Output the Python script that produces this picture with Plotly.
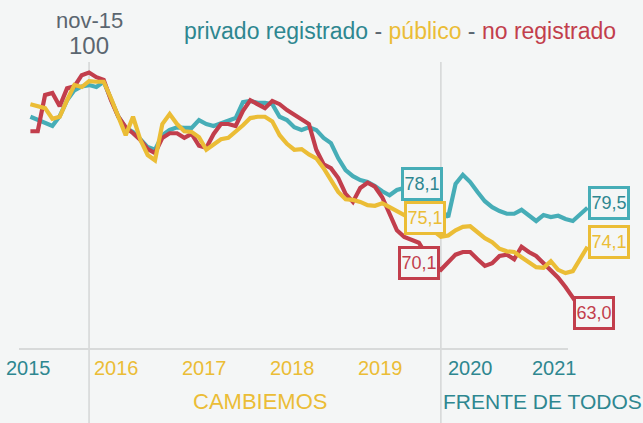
import pandas as pd
import plotly.graph_objects as go

# Monthly index (nov-15 = 100), Mar-2015 .. Jul-2021
months = pd.date_range("2015-03-01", periods=77, freq="MS").strftime("%b-%y").tolist()

privado_registrado = [
    93.3, 92.8, 92.3, 91.9, 93.4, 95.8, 97.3, 97.9, 98.1, 97.8,
    98.6, 95.8, 93.3, 91.6, 91.0, 89.9, 88.7, 88.3, 90.5, 91.3,
    91.7, 91.6, 91.6, 92.8, 92.2, 91.9, 92.3, 92.8, 93.1, 95.5,
    95.7, 95.4, 95.4, 95.2, 93.3, 92.8, 91.7, 91.3, 91.7, 91.3,
    90.1, 89.3, 87.0, 85.2, 84.3, 83.7, 83.4, 82.8, 82.0, 81.4,
    82.2, 82.5, 82.2, 81.4, 80.7, 79.9, 79.2, 78.1, 83.1, 84.5,
    83.4, 81.9, 80.5, 79.6, 79.0, 78.6, 78.6, 79.2, 78.3, 77.5,
    78.4, 78.1, 78.3, 77.8, 77.5, 78.6, 79.5,
]
publico = [
    95.2, 94.9, 94.6, 93.0, 93.3, 95.8, 98.1, 97.8, 98.7, 98.6,
    98.6, 96.1, 93.1, 90.5, 93.3, 89.8, 87.5, 86.7, 92.2, 93.7,
    92.2, 91.1, 91.0, 90.2, 88.3, 89.2, 89.9, 90.1, 91.0, 92.0,
    93.1, 93.3, 93.3, 92.6, 90.5, 89.2, 88.3, 88.4, 87.6, 87.0,
    85.5, 83.7, 81.9, 80.8, 80.7, 80.4, 79.9, 79.8, 80.2, 79.6,
    79.0, 78.4, 77.8, 77.2, 76.6, 76.0, 75.1, 75.3, 76.1, 76.6,
    76.7, 75.8, 74.9, 74.3, 73.3, 72.9, 72.8, 72.0, 71.3, 70.5,
    70.4, 71.4, 70.1, 69.6, 69.9, 71.9, 73.6,
]
no_registrado = [
    91.1, 91.1, 96.6, 96.9, 94.9, 97.6, 97.9, 99.6, 100.0, 99.3,
    98.9, 95.8, 93.3, 91.7, 90.8, 89.8, 88.4, 87.8, 90.1, 90.8,
    90.8, 90.1, 90.7, 88.9, 88.6, 90.7, 92.2, 92.2, 91.9, 94.2,
    95.8, 95.2, 94.6, 95.7, 95.2, 94.3, 93.6, 92.9, 92.2, 88.3,
    86.1, 85.5, 84.0, 81.6, 80.4, 82.5, 83.3, 82.7, 81.1, 78.6,
    76.1, 75.1, 74.6, 74.2, 72.4, 70.8, 70.1, 71.3, 72.4, 72.8,
    72.8, 71.7, 70.7, 71.1, 72.2, 72.4, 71.7, 73.6, 72.8, 72.2,
    71.1, 70.2, 68.9, 67.5, 65.8, 64.3, 63.0,
]

years_cambiemos_before = ["2015"]
years_cambiemos = ["2016", "2017", "2018", "2019"]
years_frente = ["2020", "2021"]

FONT = "Liberation Sans Narrow, Arial Narrow, Liberation Sans, sans-serif"
BG = "#f4f6f6"
TEAL = "#46adb7"
TEAL_TXT = "#2e8790"
YEL = "#ebbd36"
RED = "#c23e4c"
GRAY = "#5b6670"

W, H = 643, 423
T, B = 60, 74
PH = H - T - B


def px(x):
    return x / W


def py(y):
    return (H - B - y) / PH


fig = go.Figure()
for name, vals, col in [
    ("privado registrado", privado_registrado, TEAL),
    ("no registrado", no_registrado, RED),
    ("público", publico, YEL),
]:
    fig.add_trace(go.Scatter(
        x=months, y=vals, mode="lines", name=name,
        line=dict(color=col, width=4.2, shape="linear"),
        hoverinfo="x+y+name",
    ))

shapes = []
for m in ["Nov-15", "Nov-19"]:
    shapes.append(dict(type="line", xref="x", yref="paper", x0=m, x1=m,
                       y0=py(423), y1=py(62), line=dict(color="#d4d6d6", width=1.5),
                       layer="below"))
shapes.append(dict(type="line", xref="paper", yref="paper", x0=px(19), x1=px(568),
                   y0=py(349), y1=py(349), line=dict(color="#d8dada", width=2),
                   layer="below"))

ann = []


def text(x, y, s, size, color, **kw):
    ann.append(dict(x=px(x), y=py(y), xref="paper", yref="paper", text=s,
                    showarrow=False, xanchor=kw.pop("xanchor", "center"),
                    yanchor="middle", font=dict(family=FONT, size=size, color=color), **kw))


text(89, 20, "nov-15", 22, GRAY)
text(89, 46, "100", 24, GRAY)
text(400, 31,
     f"<span style='color:{TEAL_TXT}'>privado registrado</span> - "
     f"<span style='color:{YEL}'>público</span> - "
     f"<span style='color:{RED}'>no registrado</span>", 23, GRAY)

year_x = {"2015": 28.5, "2016": 116.5, "2017": 204, "2018": 292,
          "2019": 380, "2020": 470, "2021": 554}
for yr in years_cambiemos_before + years_frente:
    text(year_x[yr], 368, yr, 20, TEAL_TXT)
for yr in years_cambiemos:
    text(year_x[yr], 368, yr, 20, YEL)
text(260, 401, "CAMBIEMOS", 22, YEL)
text(542, 401, "FRENTE DE TODOS", 21, TEAL_TXT)


def box(x, y, s, col, tcol):
    ann.append(dict(x=px(x), y=py(y), xref="paper", yref="paper", text=s,
                    showarrow=False, xanchor="center", yanchor="middle",
                    font=dict(family=FONT, size=18, color=tcol),
                    bgcolor=BG, bordercolor=col, borderwidth=3, borderpad=0,
                    width=36, height=28))


box(422, 184, "78,1", TEAL, TEAL_TXT)
box(425, 218, "75,1", YEL, YEL)
box(419, 263, "70,1", RED, RED)
box(609, 203, "79,5", TEAL, TEAL_TXT)
box(609, 242, "74,1", YEL, YEL)
box(594, 313, "63,0", RED, RED)

fig.update_layout(
    width=W, height=H,
    margin=dict(l=0, r=0, t=T, b=B, pad=0),
    paper_bgcolor=BG, plot_bgcolor=BG,
    showlegend=False,
    shapes=shapes, annotations=ann,
    xaxis=dict(type="category", range=[-30.4 / 7.33, (W - 30.4) / 7.33],
               showgrid=False, zeroline=False, showticklabels=False, ticks=""),
    yaxis=dict(range=[58.1, 101.9], showgrid=False, zeroline=False,
               showticklabels=False, ticks=""),
    font=dict(family=FONT),
)

fig.write_html("out.html", config={"displayModeBar": False},
               post_script="document.body.style.margin='0';document.body.style.overflow='hidden';")
